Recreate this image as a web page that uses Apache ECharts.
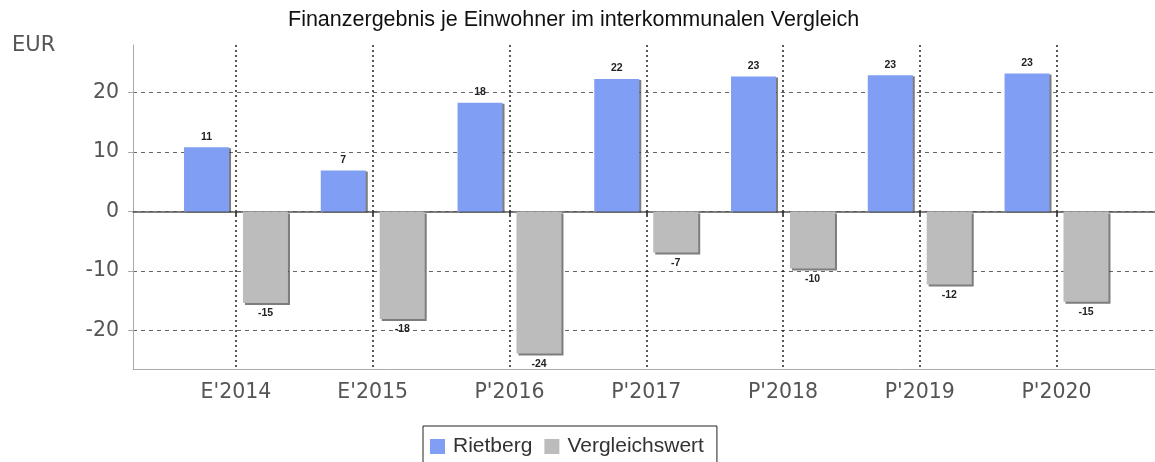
<!DOCTYPE html>
<html>
<head>
<meta charset="utf-8">
<script src="https://cdn.jsdelivr.net/npm/echarts@6/dist/echarts.min.js"></script>
<style>html,body{margin:0;padding:0;background:#fff}#c{width:1155px;height:462px}</style>
</head>
<body>
<div id="c"></div>
<script>
const categories = ["E'2014", "E'2015", "P'2016", "P'2017", "P'2018", "P'2019", "P'2020"];
const rietberg = [10.8, 6.9, 18.3, 22.3, 22.7, 22.9, 23.2];
const vergleichswert = [-15.4, -18.1, -23.9, -6.9, -9.6, -12.3, -15.2];
const yMin = -26.5, yMax = 28;

const chart = echarts.init(document.getElementById('c'), null, {renderer: 'canvas'});
const axisFont = {fontFamily: 'DejaVu Sans', fontSize: 20.5, color: '#555'};
const barLabel = {show: true, fontFamily: 'Liberation Sans', fontSize: 10.5, fontWeight: 'bold', color: '#222', distance: 5,
  formatter: p => p.value.toFixed(0)};
chart.setOption({
  animation: false,
  backgroundColor: '#fff',
  title: {text: 'Finanzergebnis je Einwohner im interkommunalen Vergleich', left: 288, top: 9, padding: 0,
    textStyle: {fontFamily: 'Liberation Sans', fontSize: 21.5, fontWeight: 'normal', color: '#111'}},
  graphic: [{type: 'text', left: 12, top: 35, style: {text: 'EUR', font: '21px "DejaVu Sans"', fill: '#555'}}],
  legend: {left: 423, top: 426, padding: [10, 13, 12, 7], itemGap: 12, itemWidth: 15, itemHeight: 15, icon: 'rect',
    borderColor: '#222', borderWidth: 1, borderRadius: 0,
    textStyle: {fontFamily: 'Liberation Sans', fontSize: 21, color: '#333', padding: [0, 0, 0, 3]},
    data: ['Rietberg', 'Vergleichswert']},
  grid: [
    {left: 236, width: 820.5, top: 45, bottom: 93, containLabel: false},
    {left: 133, right: -10, top: 45, bottom: 93, containLabel: false}
  ],
  xAxis: [
    {gridIndex: 0, type: 'category', data: categories, boundaryGap: false,
      axisLine: {show: false},
      axisTick: {show: true, length: 4, lineStyle: {color: '#222', width: 1.5}},
      axisLabel: Object.assign({margin: 13}, axisFont),
      splitLine: {show: true, lineStyle: {color: '#222', width: 1.5, type: [2, 3]}}},
    {gridIndex: 1, type: 'value', min: 0, max: 1, position: 'bottom',
      axisLine: {show: true, onZero: true, lineStyle: {color: '#555', width: 1.5}},
      axisTick: {show: false}, axisLabel: {show: false}, splitLine: {show: false}},
    {gridIndex: 1, type: 'value', min: 0, max: 1, position: 'bottom',
      axisLine: {show: true, onZero: false, lineStyle: {color: '#aaa', width: 1}},
      axisTick: {show: false}, axisLabel: {show: false}, splitLine: {show: false}}
  ],
  yAxis: [
    {gridIndex: 0, type: 'value', min: yMin, max: yMax, show: false, splitLine: {show: false}},
    {gridIndex: 1, type: 'value', min: yMin, max: yMax,
      axisLine: {show: true, lineStyle: {color: '#aaa', width: 1}},
      axisTick: {show: true, length: 5, lineStyle: {color: '#aaa'}},
      axisLabel: Object.assign({margin: 14, showMinLabel: false, showMaxLabel: false}, axisFont),
      splitLine: {show: true, showMinLine: false, showMaxLine: false, lineStyle: {color: '#666', width: 1, type: [4, 4]}}}
  ],
  series: [
    {name: 'Rietberg', type: 'bar', xAxisIndex: 0, yAxisIndex: 0, data: rietberg, barWidth: 45, barGap: '31%', clip: false,
      itemStyle: {color: '#7f9ef4', shadowColor: 'rgba(70,70,70,0.7)', shadowOffsetX: 2, shadowOffsetY: 1, shadowBlur: 0},
      label: Object.assign({position: 'top'}, barLabel)},
    {name: 'Vergleichswert', type: 'bar', xAxisIndex: 0, yAxisIndex: 0, data: vergleichswert, barWidth: 45, clip: false,
      itemStyle: {color: '#bcbcbc', shadowColor: 'rgba(70,70,70,0.7)', shadowOffsetX: 2, shadowOffsetY: 2, shadowBlur: 0},
      label: Object.assign({position: 'bottom'}, barLabel)}
  ]
});
</script>
</body>
</html>
